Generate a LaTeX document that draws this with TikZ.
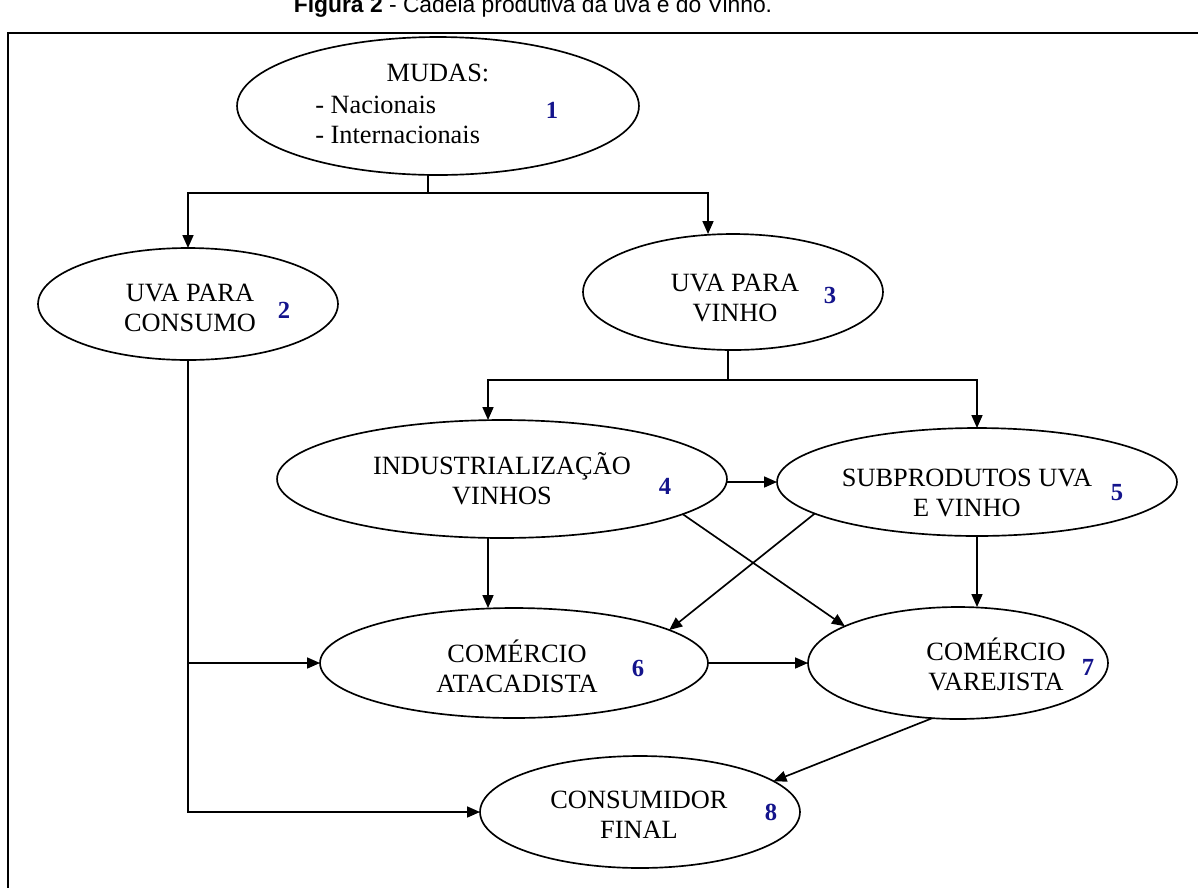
\documentclass[tikz,border=0pt]{standalone}
\usepackage{fontspec}
\setmainfont{Liberation Serif}
\newfontfamily\titlefont{Liberation Sans}
\usetikzlibrary{shapes.geometric,arrows.meta}
\definecolor{numblue}{RGB}{20,20,140}

\tikzset{
  elbox/.style={draw=black, line width=0.95pt, ellipse, inner sep=0pt, outer sep=0pt},
  lbl/.style={align=center, inner sep=0pt, font=\fontsize{15}{17}\selectfont},
  num/.style={inner sep=0pt, text=numblue, font=\fontsize{14}{16}\selectfont\bfseries},
  conn/.style={line width=0.95pt},
  arr/.style={conn, -{Triangle[length=0.26cm,width=0.22cm]}}
}

\begin{document}
\begin{tikzpicture}[x=0.02cm, y=-0.02cm]
        \useasboundingbox (0,0) rectangle (1198,887);

        \node[anchor=base, inner sep=0pt, font=\titlefont\fontsize{13}{15}\selectfont] (titulo) at (533,12) {\textbf{Figura 2} - Cadeia produtiva da uva e do Vinho.};
        \draw[line width=1.4pt] (8,900) -- (8,33) -- (1210,33);

        % elipses
        \node[elbox, minimum width=8.04cm, minimum height=2.76cm] (e1) at (438,106) {};
        \node[elbox, minimum width=6cm, minimum height=2.24cm] (e2) at (188,304) {};
        \node[elbox, minimum width=6cm, minimum height=2.32cm] (e3) at (733,292) {};
        \node[elbox, minimum width=9cm, minimum height=2.36cm] (e4) at (502,479) {};
        \node[elbox, minimum width=8cm, minimum height=2.16cm] (e5) at (977,482) {};
        \node[elbox, minimum width=7.76cm, minimum height=2.2cm] (e6) at (514,663) {};
        \node[elbox, minimum width=6cm, minimum height=2.24cm] (e7) at (958,663) {};
        \node[elbox, minimum width=6.4cm, minimum height=2.24cm] (e8) at (640,812) {};

        % textos
        \node[lbl] (t1) at (438,73) {MUDAS:};
        \node[lbl, align=left, anchor=west] (t1b) at (315,120) {- Nacionais\\- Internacionais};
        \node[lbl] (t2) at (190,308) {UVA PARA\\CONSUMO};
        \node[lbl] (t3) at (735,298) {UVA PARA\\VINHO};
        \node[lbl] (t4) at (502,479) {INDUSTRIALIZAÇÃO\\VINHOS};
        \node[lbl] (t5) at (967,493) {SUBPRODUTOS UVA\\E VINHO};
        \node[lbl] (t6) at (517,666) {COMÉRCIO\\ATACADISTA};
        \node[lbl] (t7) at (996,664) {COMÉRCIO\\VAREJISTA};
        \node[lbl] (t8) at (639,815) {CONSUMIDOR\\FINAL};

        \node[num] (n1) at (552,110) {1};
        \node[num] (n2) at (284,310) {2};
        \node[num] (n3) at (830,295) {3};
        \node[num] (n4) at (665,486) {4};
        \node[num] (n5) at (1117,493) {5};
        \node[num] (n6) at (638,668) {6};
        \node[num] (n7) at (1088,667) {7};
        \node[num] (n8) at (771,812) {8};

        % ligacoes
        \coordinate (j1) at (428,193);
        \draw[conn] (e1.south -| j1) -- (j1);
        \draw[arr] (j1) -| (e2.north);
        \draw[arr] (j1) -| ([xshift=-0.5cm]e3.north);

        \coordinate (j3) at (728,380);
        \draw[conn] (e3.south -| j3) -- (j3);
        \draw[arr] (j3) -| ([xshift=-0.28cm]e4.north);
        \draw[arr] (j3) -| (e5.north);

        \draw[arr] (e4.east |- e5.west) -- (e5.west);
        \draw[arr] ([xshift=-0.28cm]e4.south) -- ([xshift=-0.28cm]e4.south |- e6.north);
        \draw[arr] (e4.-11) -- (e7.162);
        \draw[arr] (e5.191) -- (e6.12);
        \draw[arr] (e5.south) -- (e5.south |- e7.north);
        \draw[arr] (e6.east) -- (e7.west);
        \draw[arr] (e7.245) -- (e8.13);

        \draw[arr] (e2.south) |- (e8.west);
        \draw[arr] (e2.south |- e6.west) -- (e6.west);
\end{tikzpicture}
\end{document}
